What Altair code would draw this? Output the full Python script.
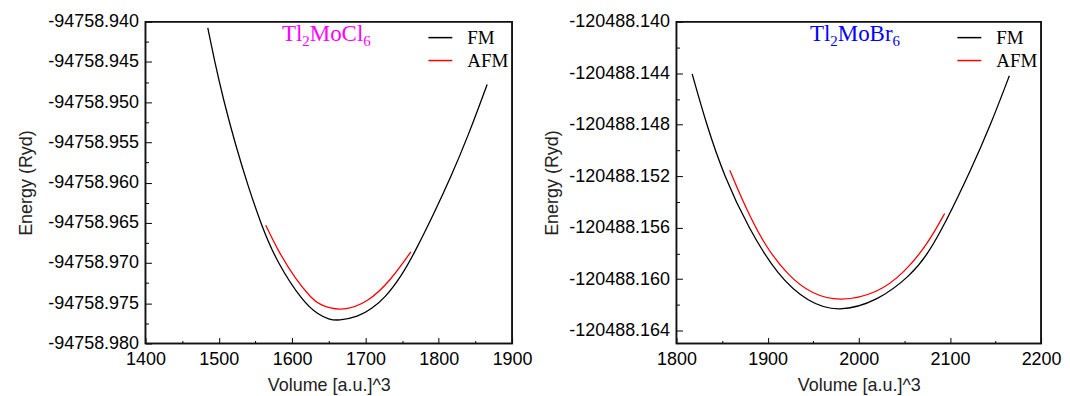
import altair as alt
import pandas as pd

# ---------------- Tl2MoCl6 (left panel) ----------------
cl_fm_vol = [1485, 1494, 1506, 1523, 1540.5, 1557.7, 1578.5, 1616, 1636, 1650, 1663,
             1690, 1708.5, 1727, 1749.2, 1767, 1794, 1817, 1840, 1866]
cl_fm_e = [-94758.94078, -94758.9448, -94758.9496, -94758.9554, -94758.9606, -94758.9652,
           -94758.9698, -94758.9750, -94758.9764, -94758.9770, -94758.97718,
           -94758.9767, -94758.9757, -94758.9743, -94758.9716, -94758.96871,
           -94758.96374, -94758.95919, -94758.95422, -94758.94780]
cl_afm_vol = [1564, 1581.1, 1604.7, 1627.2, 1636.2, 1665.6, 1704, 1735.6, 1761.9]
cl_afm_e = [-94758.96530, -94758.96855, -94758.97200, -94758.97445, -94758.97514,
            -94758.97607, -94758.97491, -94758.97201, -94758.96862]
cl_x_major = [1400, 1500, 1600, 1700, 1800, 1900]
cl_x_minor = [1450, 1550, 1650, 1750, 1850]
cl_y_major = [-94758.980, -94758.975, -94758.970, -94758.965, -94758.960,
              -94758.955, -94758.950, -94758.945, -94758.940]
cl_y_minor = [-94758.9775, -94758.9725, -94758.9675, -94758.9625,
              -94758.9575, -94758.9525, -94758.9475, -94758.9425]

# ---------------- Tl2MoBr6 (right panel) ----------------
br_fm_vol = [1817.2, 1832.9, 1852.3, 1878.7, 1911.6, 1944.5, 1977.5,
             2021, 2057.2, 2075.4, 2095.3, 2122.5, 2144.2, 2165.2]
br_fm_e = [-120488.14405, -120488.148, -120488.152, -120488.156, -120488.1598,
           -120488.16181, -120488.16258, -120488.1617, -120488.1597, -120488.1581,
           -120488.1556, -120488.1516, -120488.1481, -120488.1442]
br_afm_vol = [1858.5, 1875, 1897, 1922.6, 1948.2, 1979.3, 2021, 2050, 2075.4, 2094.2]
br_afm_e = [-120488.15154, -120488.15432, -120488.15742, -120488.15974, -120488.16116,
            -120488.16176, -120488.1611, -120488.1595, -120488.1573, -120488.1549]
br_x_major = [1800, 1900, 2000, 2100, 2200]
br_x_minor = [1850, 1950, 2050, 2150]
br_y_major = [-120488.164, -120488.160, -120488.156, -120488.152,
              -120488.148, -120488.144, -120488.140]
br_y_minor = [-120488.162, -120488.158, -120488.154, -120488.150,
              -120488.146, -120488.142]

# compound labels: (text, is_subscript)
cl_name = [("Tl", False), ("2", True), ("MoCl", False), ("6", True)]
br_name = [("Tl", False), ("2", True), ("MoBr", False), ("6", True)]

SANS = "Liberation Sans"
SERIF = "Liberation Serif"
MAIN_FS = 23
SUB_FS = 15
# approximate Times advance widths (em) for laying out the compound label pieces
EM = {"T": 0.611, "l": 0.278, "M": 0.889, "o": 0.5, "C": 0.667, "B": 0.667,
      "r": 0.333, "2": 0.5, "6": 0.5}


def compound_label(pieces, color, x0, base_y):
    layers = []
    x = x0
    for txt, sub in pieces:
        fs = SUB_FS if sub else MAIN_FS
        layers.append(
            alt.Chart(pd.DataFrame({"t": [txt]})).mark_text(
                font=SERIF, fontSize=fs, color=color, align="left",
                baseline="alphabetic").encode(
                text="t:N", x=alt.value(x), y=alt.value(base_y + (5 if sub else 0))))
        x += sum(EM.get(c, 0.5) for c in txt) * fs
    return layers


def panel(fm_v, fm_e, afm_v, afm_e, xdom, ydom, xmaj, xmin, ymaj, ymin,
          name, name_color, name_x, ytitle_pad, w, h):
    df = pd.DataFrame({
        "vol": fm_v + afm_v,
        "E": fm_e + afm_e,
        "series": ["FM"] * len(fm_v) + ["AFM"] * len(afm_v),
    })
    xs = alt.Scale(domain=xdom, nice=False, zero=False)
    ys = alt.Scale(domain=ydom, nice=False, zero=False)
    base = alt.Chart(df)

    lines = base.mark_line(strokeWidth=1.3, interpolate="basis", clip=True).encode(
        x=alt.X("vol:Q", scale=xs, axis=alt.Axis(
            orient="bottom", values=xmaj, format="d", ticks=False, tickSize=0,
            domain=False, grid=False, labelPadding=7, labelFlush=False,
            labelFontSize=18, labelFont=SANS, labelColor="black",
            title="Volume [a.u.]^3", titleFontSize=18, titleFont=SANS,
            titleFontWeight="normal", titleColor="#222", titlePadding=8)),
        y=alt.Y("E:Q", scale=ys, axis=alt.Axis(
            orient="left", values=ymaj,
            labelExpr="replace(format(datum.value, '.3f'), '\u2212', '-')",
            ticks=False, tickSize=0,
            domain=False, grid=False, labelPadding=7, labelFlush=False,
            labelFontSize=18, labelFont=SANS, labelColor="black",
            title="Energy (Ryd)", titleFontSize=18, titleFont=SANS,
            titleFontWeight="normal", titleColor="#222", titlePadding=ytitle_pad)),
        color=alt.Color("series:N",
                        scale=alt.Scale(domain=["FM", "AFM"], range=["black", "#ff0000"]),
                        sort=["FM", "AFM"],
                        legend=alt.Legend(
                            orient="top-right", offset=3, padding=0, title=None,
                            symbolType="stroke", symbolSize=576, symbolStrokeWidth=1.5,
                            labelFont=SERIF, labelFontSize=19, labelColor="black",
                            labelOffset=14, rowPadding=-5)),
    )

    def tick_layer(xv, yv, size):
        return base.mark_point(opacity=0).encode(
            x=alt.X("vol:Q", scale=xs, axis=alt.Axis(
                orient="bottom", values=xv, labels=False, domain=False, grid=False,
                ticks=True, tickSize=size, tickWidth=1, tickColor="black",
                offset=-size, title=None)),
            y=alt.Y("E:Q", scale=ys, axis=alt.Axis(
                orient="left", values=yv, labels=False, domain=False, grid=False,
                ticks=True, tickSize=size, tickWidth=1, tickColor="black",
                offset=-size, title=None)),
        )

    frame = alt.Chart(pd.DataFrame({"f": [0]})).mark_rect(
        fillOpacity=0, stroke="#111111", strokeWidth=1.5).encode(
        x=alt.value(0), x2=alt.value(w), y=alt.value(0), y2=alt.value(h))

    layers = [lines, tick_layer(xmaj, ymaj, 6), tick_layer(xmin, ymin, 3), frame]
    layers += compound_label(name, name_color, name_x, 19)
    return alt.layer(*layers) \
        .resolve_scale(x="independent", y="independent") \
        .properties(width=w, height=h)


left = panel(cl_fm_vol, cl_fm_e, cl_afm_vol, cl_afm_e,
             [1400, 1900], [-94758.980, -94758.940],
             cl_x_major, cl_x_minor, cl_y_major, cl_y_minor,
             cl_name, "#ff00ff", 137, 12, 368, 323)
right = panel(br_fm_vol, br_fm_e, br_afm_vol, br_afm_e,
              [1800, 2200], [-120488.165, -120488.140],
              br_x_major, br_x_minor, br_y_major, br_y_minor,
              br_name, "#0000ff", 134, 7, 366, 323)

chart = alt.hconcat(left, right, spacing=10).resolve_scale(color="independent") \
    .properties(padding={"left": 9, "top": 3, "right": 0, "bottom": 0}) \
    .configure_view(stroke="#000000", strokeWidth=1.5)

chart.save("out.html", embed_options={"renderer": "svg", "actions": False})
